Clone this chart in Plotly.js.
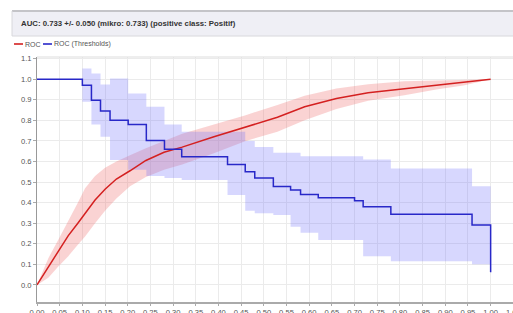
<!DOCTYPE html>
<html>
<head>
<meta charset="utf-8">
<script src="https://cdn.plot.ly/plotly-3.0.1.min.js"></script>
<style>
html,body{margin:0;padding:0;overflow:hidden;background:#fff;}
#chart{width:560px;height:313px;}
</style>
</head>
<body>
<div id="chart"></div>
<script>
// ROC (mean) curve with band
const rocX  = [0, 0.025, 0.047, 0.069, 0.09, 0.106, 0.128, 0.15, 0.175, 0.205, 0.24, 0.28, 0.32, 0.39, 0.46, 0.53, 0.59, 0.66, 0.73, 0.81, 0.88, 0.94, 1.0];
const rocY  = [0, 0.085, 0.16, 0.24, 0.30, 0.35, 0.413, 0.465, 0.515, 0.555, 0.605, 0.645, 0.67, 0.72, 0.768, 0.815, 0.866, 0.906, 0.934, 0.955, 0.971, 0.985, 1.0];
const rocHi = [0, 0.13, 0.22, 0.31, 0.40, 0.47, 0.53, 0.57, 0.60, 0.63, 0.665, 0.70, 0.735, 0.78, 0.825, 0.875, 0.92, 0.955, 0.975, 0.99, 0.995, 0.998, 1.0];
const rocLo = [0, 0.035, 0.09, 0.14, 0.195, 0.235, 0.30, 0.36, 0.42, 0.48, 0.525, 0.56, 0.585, 0.64, 0.70, 0.745, 0.80, 0.855, 0.895, 0.922, 0.95, 0.97, 1.0];

// ROC (Thresholds) step curve with band
const thrX  = [0, 0.10, 0.12, 0.14, 0.161, 0.201, 0.241, 0.281, 0.319, 0.420, 0.459, 0.480, 0.521, 0.559, 0.581, 0.620, 0.700, 0.719, 0.780, 0.959, 1.0, 1.0];
const thrY  = [1.0, 0.971, 0.898, 0.846, 0.801, 0.780, 0.702, 0.659, 0.623, 0.585, 0.550, 0.520, 0.478, 0.461, 0.439, 0.424, 0.409, 0.380, 0.343, 0.291, 0.291, 0.062];
const bandX  = [0, 0.10, 0.12, 0.14, 0.161, 0.201, 0.241, 0.281, 0.319, 0.420, 0.459, 0.480, 0.521, 0.559, 0.581, 0.620, 0.700, 0.719, 0.780, 0.959, 1.0];
const bandHi = [1.0, 1.052, 1.028, 0.974, 1.003, 0.93, 0.866, 0.78, 0.745, 0.745, 0.70, 0.67, 0.642, 0.642, 0.626, 0.626, 0.626, 0.61, 0.566, 0.48, 0.48];
const bandLo = [1.0, 0.89, 0.78, 0.72, 0.607, 0.56, 0.53, 0.52, 0.51, 0.437, 0.36, 0.348, 0.34, 0.283, 0.254, 0.218, 0.218, 0.14, 0.115, 0.10, 0.10];

const titleText = "AUC: 0.733 +/- 0.050 (mikro: 0.733) (positive class: Positif)";
const legendNames = ["ROC", "ROC (Thresholds)"];

const RED = "rgb(212,32,32)";
const BLUE = "rgb(40,40,200)";

const traces = [
  {x: rocX, y: rocLo, mode: "lines", line: {width: 0, color: RED}, showlegend: false, hoverinfo: "skip"},
  {x: rocX, y: rocHi, mode: "lines", line: {width: 0, color: RED}, fill: "tonexty", fillcolor: "rgba(240,110,110,0.30)", showlegend: false, hoverinfo: "skip"},
  {x: bandX, y: bandLo, mode: "lines", line: {width: 0, shape: "hv", color: BLUE}, showlegend: false, hoverinfo: "skip"},
  {x: bandX, y: bandHi, mode: "lines", line: {width: 0, shape: "hv", color: BLUE}, fill: "tonexty", fillcolor: "rgba(110,110,250,0.28)", showlegend: false, hoverinfo: "skip"},
  {x: rocX, y: rocY, mode: "lines", name: legendNames[0], line: {color: RED, width: 1.5}},
  {x: thrX, y: thrY, mode: "lines", name: legendNames[1], line: {color: BLUE, width: 1.5, shape: "hv"}}
];

// pixel helpers for decoration (plot area: x 37..536.4, y 57..302)
const W = 560, H = 313, L = 37, T = 57, B = 11;
const PW = 454 * 1.1, PH = H - T - B;
const px = v => (v - L) / PW;
const py = v => (H - B - v) / PH;

const layout = {
  width: W, height: H,
  margin: {l: L, r: W - L - PW, t: T, b: B, pad: 0},
  paper_bgcolor: "#ffffff",
  plot_bgcolor: "#ffffff",
  showlegend: false,
  font: {family: "Liberation Sans, Arial, sans-serif", size: 8, color: "#555"},
  xaxis: {
    range: [0, 1.1], dtick: 0.05, tick0: 0, tickformat: ".2f",
    showgrid: true, gridcolor: "#ebebeb", gridwidth: 1,
    zeroline: false, showline: true, linecolor: "#aaaaaa", linewidth: 2,
    ticks: "outside", ticklen: 2, tickcolor: "#aaa",
    tickfont: {size: 7.6, color: "#555"}
  },
  yaxis: {
    range: [-0.083, 1.108], dtick: 0.1, tick0: 0, tickformat: ".1f",
    showgrid: true, gridcolor: "#ebebeb", gridwidth: 1,
    zeroline: false, showline: true, linecolor: "#999999", linewidth: 1,
    ticks: "outside", ticklen: 3, tickcolor: "#aaa",
    tickfont: {size: 7.6, color: "#555"}
  },
  shapes: [
    {type: "rect", xref: "paper", yref: "paper", x0: px(12), x1: px(600), y0: py(36), y1: py(11),
     fillcolor: "#efeff5", line: {width: 0}, layer: "below"},
    {type: "line", xref: "paper", yref: "paper", x0: px(12), x1: px(600), y0: py(11), y1: py(11), line: {color: "#c4c4c8", width: 2}},
    {type: "line", xref: "paper", yref: "paper", x0: px(12), x1: px(600), y0: py(36), y1: py(36), line: {color: "#d8d8dc", width: 1}},
    {type: "line", xref: "paper", yref: "paper", x0: px(12), x1: px(12), y0: py(36), y1: py(11), line: {color: "#d8d8dc", width: 1}},
    {type: "line", xref: "paper", yref: "paper", x0: 0, x1: 1, y0: 1, y1: 1, line: {color: "#dddddd", width: 1}},
    {type: "line", xref: "paper", yref: "paper", x0: px(14), x1: px(23), y0: py(44), y1: py(44), line: {color: RED, width: 1.6}},
    {type: "line", xref: "paper", yref: "paper", x0: px(43), x1: px(52), y0: py(44), y1: py(44), line: {color: BLUE, width: 1.6}}
  ],
  annotations: [
    {text: "<b>" + titleText + "</b>", xref: "paper", yref: "paper", x: px(19), y: py(24),
     xanchor: "left", yanchor: "middle", showarrow: false, font: {size: 7.8, color: "#333"}},
    {text: legendNames[0], xref: "paper", yref: "paper", x: px(23), y: py(44),
     xanchor: "left", yanchor: "middle", showarrow: false, font: {size: 7, color: "#555"}},
    {text: legendNames[1], xref: "paper", yref: "paper", x: px(52), y: py(44),
     xanchor: "left", yanchor: "middle", showarrow: false, font: {size: 7, color: "#555"}}
  ]
};

Plotly.newPlot("chart", traces, layout, {displayModeBar: false, staticPlot: true});
</script>
</body>
</html>
